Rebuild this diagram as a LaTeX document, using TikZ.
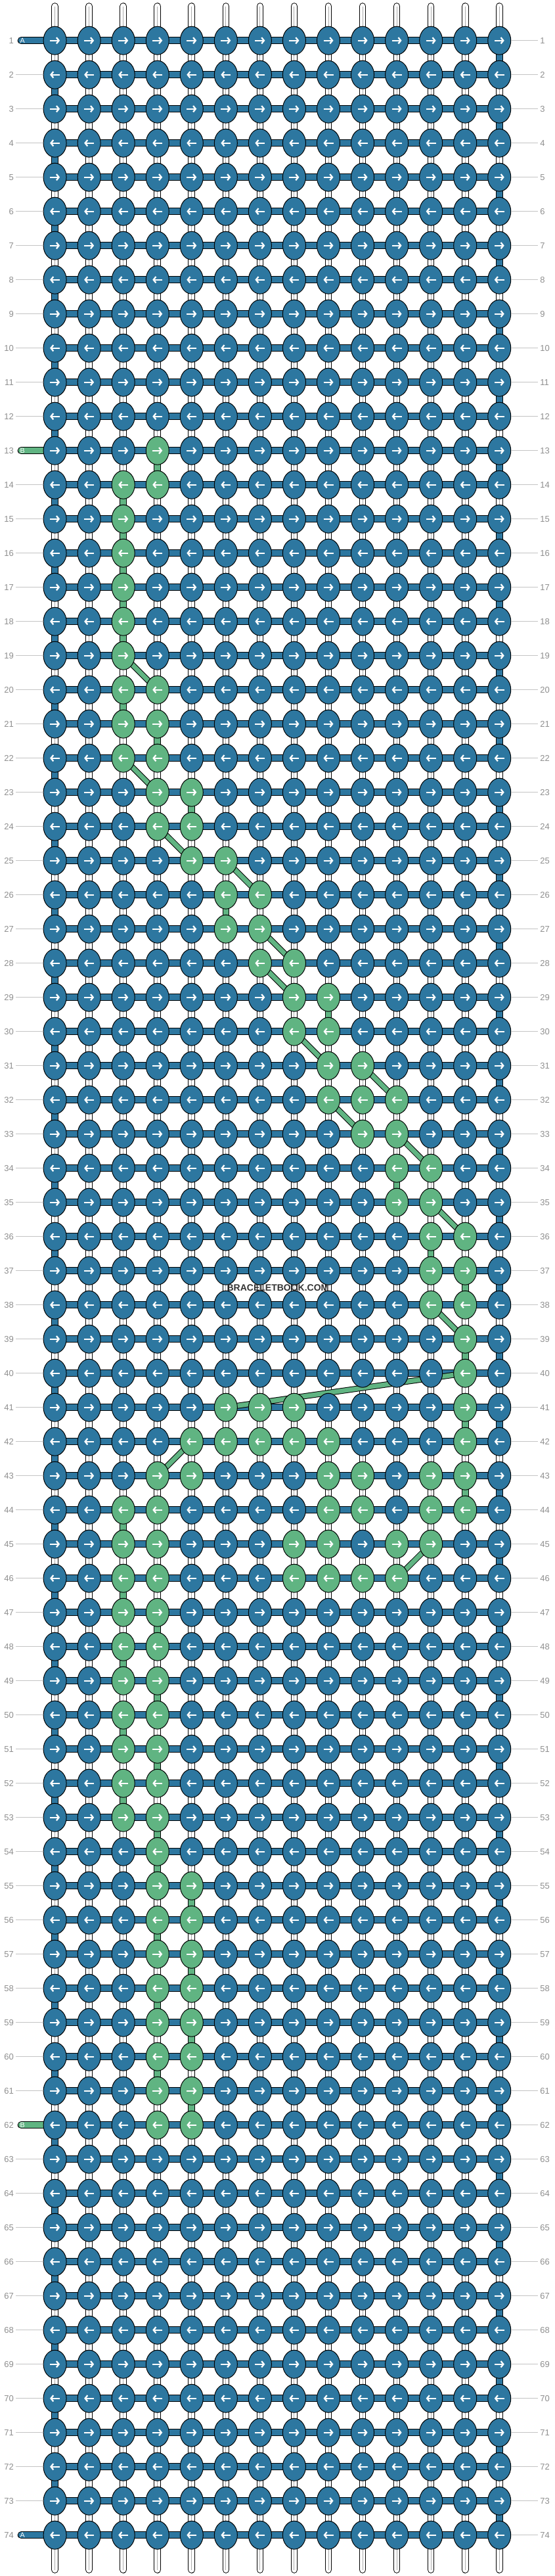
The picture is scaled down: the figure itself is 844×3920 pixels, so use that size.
\documentclass[tikz,border=0pt]{standalone}
\usepackage{fontspec}
\setmainfont{Liberation Sans}
\usetikzlibrary{shapes.geometric,backgrounds,arrows.meta}

\definecolor{threadA}{HTML}{2D77A0}
\definecolor{threadB}{HTML}{60B482}
\definecolor{labgrey}{HTML}{8E8E8E}
\definecolor{linegrey}{HTML}{C4C4C4}
\definecolor{warpgrey}{HTML}{ABABAB}
\definecolor{tagdark}{HTML}{333333}

\begin{document}
\begin{tikzpicture}[x=0.75pt,y=0.75pt,yscale=-1,xscale=1]
\tikzset{
  knotA/.style={ellipse, draw=black, line width=0.75pt, fill=threadA, minimum width=26.25pt, minimum height=32.25pt, inner sep=0pt},
  knotB/.style={knotA, fill=threadB},
  knotarrow/.style={draw=white, line width=1.8pt, -{Straight Barb[length=2.8pt,width=7pt,line width=1.7pt]}},
  rowA/.style={draw=black, line width=0.75pt, double=threadA, double distance=6.75pt},
  stubA/.style={rowA, line cap=round},
  stubB/.style={rowA, double=threadB, line cap=round},
  warp/.style={draw=black, line width=0.75pt, double=white, double distance=6.5pt},
  warpend/.style={warp, line cap=round},
  warpmid/.style={draw=warpgrey, line width=0.75pt},
  turnA/.style={warp, double=threadA},
  strandB/.style={warp, double=threadB},
  diagB/.style={warp, double=threadB, double distance=5.25pt},
  rowlab/.style={font=\fontsize{9.75}{11}\selectfont, text=labgrey, inner sep=2.25pt},
  rowline/.style={draw=linegrey, line width=0.75pt},
  stublab/.style={font=\fontsize{8}{9}\selectfont, text=white, inner sep=0pt},
  sitetag/.style={font=\fontsize{10.5}{12}\selectfont\bfseries, text=tagdark, inner sep=1pt}
}
\useasboundingbox (0,0) rectangle (844,3920);

% knots tied with thread B
\foreach \r/\c in {13/4, 14/3,14/4, 15/3,16/3,17/3,18/3,19/3, 20/3,20/4, 21/3,21/4, 22/3,22/4,
  23/4,23/5, 24/4,24/5, 25/5,25/6, 26/6,26/7, 27/6,27/7, 28/7,28/8, 29/8,29/9, 30/8,30/9,
  31/9,31/10, 32/9,32/10,32/11, 33/10,33/11, 34/11,34/12, 35/11,35/12, 36/12,36/13,
  37/12,37/13, 38/12,38/13, 39/13, 40/13, 41/6,41/7,41/8,41/13, 42/5,42/6,42/7,42/8,42/9,42/13,
  43/4,43/5,43/9,43/10,43/12,43/13, 44/3,44/4,44/9,44/10,44/12,44/13,
  45/3,45/4,45/8,45/9,45/11,45/12, 46/3,46/4,46/8,46/9,46/10,46/11,
  47/3,47/4, 48/3,48/4, 49/3,49/4, 50/3,50/4, 51/3,51/4, 52/3,52/4, 53/3,53/4, 54/4,
  55/4,55/5, 56/4,56/5, 57/4,57/5, 58/4,58/5, 59/4,59/5, 60/4,60/5, 61/4,61/5, 62/4,62/5}
  {\expandafter\gdef\csname gk-\r-\c\endcsname{}}

% knots
\foreach \r in {1,...,74} {
  \pgfmathsetmacro\knoty{61.7+52*(\r-1)}
  \foreach \c in {1,...,14} {
    \pgfmathsetmacro\knotx{83.6+52.05*(\c-1)}
    \ifcsname gk-\r-\c\endcsname\def\knotst{knotB}\else\def\knotst{knotA}\fi
    \node[\knotst] (k-\r-\c) at (\knotx,\knoty) {};
    \ifodd\r\relax
      \draw[knotarrow] (\knotx-7.5,\knoty) -- (\knotx+7.5,\knoty);
    \else
      \draw[knotarrow] (\knotx+7.5,\knoty) -- (\knotx-7.5,\knoty);
    \fi
  }
}

% row numbers
\foreach \r in {1,...,74} {
  \pgfmathsetmacro\knoty{61.7+52*(\r-1)}
  \node[rowlab, anchor=east] (ll-\r) at (24,\knoty) {\r};
  \node[rowlab, anchor=west] (rl-\r) at (819,\knoty) {\r};
  \draw[rowline] (k-\r-14) -- (rl-\r);
}
\foreach \r in {2,...,12,14,15,...,61,63,64,...,73}
  \draw[rowline] (ll-\r) -- (k-\r-1);

\begin{pgfonlayer}{background}
  % thread A rows
  \foreach \r in {1,...,74}
    \draw[rowA] (k-\r-1.center) -- (k-\r-14.center);
  % base strings
  \foreach \r [evaluate=\r as \rn using int(\r+1)] in {1,...,73}
    \foreach \c in {1,...,14}
      \draw[warp] (k-\r-\c.center) -- (k-\rn-\c.center);
  \foreach \c in {1,...,14} {
    \path (k-1-\c.center) ++(0,-52.2) coordinate (top-\c);
    \path (k-74-\c.center) ++(0,52.8) coordinate (bot-\c);
    \draw[warpend] (top-\c) -- (k-1-\c.center);
    \draw[warpend] (bot-\c) -- (k-74-\c.center);
    \draw[warpmid] (top-\c) -- (bot-\c);
  }
  % thread A turning at the edges
  \foreach \r in {1,3,...,73} {
    \pgfmathtruncatemacro\rn{\r+1}
    \draw[turnA] (k-\r-14.center) -- (k-\rn-14.center);
  }
  \foreach \r in {2,4,...,72} {
    \pgfmathtruncatemacro\rn{\r+1}
    \draw[turnA] (k-\r-1.center) -- (k-\rn-1.center);
  }
  % thread B going down
  \foreach \r/\c in {13/4,14/3,15/3,16/3,17/3,18/3,20/3,21/4,23/5,26/6,29/9,34/11,36/12,37/13,
    39/13,41/13,43/13,44/3,46/3,47/4,48/3,49/4,50/3,51/4,52/3,53/4,54/4,55/5,56/4,57/5,
    58/4,59/5,60/4,61/5} {
    \pgfmathtruncatemacro\rn{\r+1}
    \draw[strandB] (k-\r-\c.center) -- (k-\rn-\c.center);
  }
  \foreach \ra/\ca/\rb/\cb in {19/3/20/4, 22/3/23/4, 24/4/25/5, 25/6/26/7, 27/7/28/8, 28/7/29/8,
    30/8/31/9, 31/10/32/11, 32/9/33/10, 33/11/34/12, 35/12/36/13, 38/12/39/13, 40/13/41/6,
    42/5/43/4, 45/12/46/11}
    \draw[diagB] (k-\ra-\ca.center) -- (k-\rb-\cb.center);
  % loose ends
  \foreach \r/\s in {1/stubA,13/stubB,62/stubB,74/stubA} {
    \path (k-\r-1.center) ++(-51.4,0) coordinate (end-\r);
    \draw[\s] (end-\r) -- (k-\r-1.center);
  }
\end{pgfonlayer}
\foreach \r/\t in {1/A,13/B,62/B,74/A}
  \path (end-\r) ++(2,0) node[stublab] (sl-\r) {\t};

\node[sitetag] (tag) at (423,1960) {BRACELETBOOK.COM};
\end{tikzpicture}
\end{document}
